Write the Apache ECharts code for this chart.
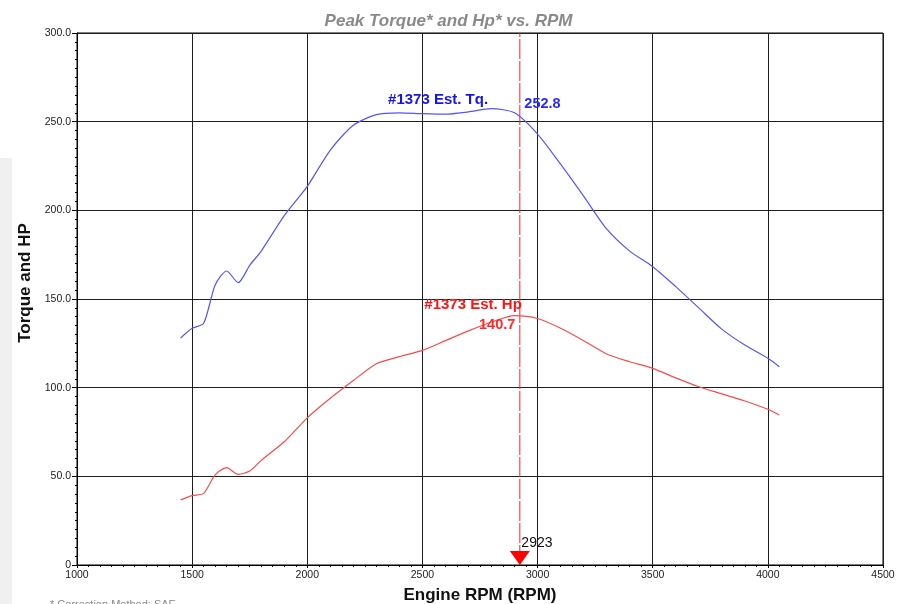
<!DOCTYPE html>
<html>
<head>
<meta charset="utf-8">
<script src="https://cdn.jsdelivr.net/npm/echarts@6/dist/echarts.min.js"></script>
<style>
html,body{margin:0;padding:0;background:#fff;}
#chart{width:897px;height:604px;}
</style>
</head>
<body>
<div id="chart"></div>
<script>
// ---- data ----
const rpm = [1450,1500,1550,1600,1650,1700,1750,1800,1900,2000,2100,2200,2300,2400,2500,2600,2700,2800,2900,3000,3100,3200,3300,3400,3500,3600,3700,3800,3900,4000,4050];
const torque = [128,133.5,136.3,157.9,165.8,159.2,169,177,197,213.5,234,248,254,255,254.5,254.2,255.5,257.3,255,243,226,208,189.5,177,168.2,157,145,133,124,116.6,111.8];
const hp = [36.7,39.1,40.4,50.8,54.9,51.1,53,59,69.5,83,94,104,113.5,117.5,121,126.5,132,137,140.6,139,133.5,126.5,119,114.6,110.9,105.5,100.5,96.5,92.5,87.8,84.6];
const cursorRpm = [2923];
const cursorValues = [252.8, 140.7];
const seriesNames = ['#1373 Est. Tq.', '#1373 Est. Hp'];
const xTickLabels = ['1000','1500','2000','2500','3000','3500','4000','4500'];
const yTickLabels = ['0','50.0','100.0','150.0','200.0','250.0','300.0'];
const yRange = [0, 300];

const tqData = rpm.map((r,i)=>[r, torque[i]]);
const hpData = rpm.map((r,i)=>[r, hp[i]]);
const cursorData = yRange.map(v=>[cursorRpm[0], v]);

const chart = echarts.init(document.getElementById('chart'), null, {renderer:'canvas'});
const FONT = 'Liberation Sans, Arial, sans-serif';
const hidden = {color:'rgba(0,0,0,0)'};

chart.setOption({
  animation:false,
  backgroundColor:'#fff',
  title:{
    text:'Peak Torque* and Hp* vs. RPM',
    left:'center', top:8,
    textStyle:{fontFamily:FONT, fontSize:17, fontWeight:'bold', fontStyle:'italic', color:'#8a8a8a'}
  },
  grid:{left:77, right:14, top:33, bottom:39, show:true, borderColor:'#000', borderWidth:1,
    containLabel:false, outerBoundsMode:'none'},
  xAxis:{
    type:'value', min:1000, max:4500, interval:500,
    axisLine:{show:true, lineStyle:{color:'#000', width:1}},
    axisTick:{show:true, length:3, lineStyle:{color:'#000'}},
    minorTick:{show:true, splitNumber:10, length:2, lineStyle:{color:'#000'}},
    splitLine:{show:true, lineStyle:{color:'#1e1e1e', width:1}},
    axisLabel:{margin:5, fontFamily:FONT, fontSize:10.5, color:'#222',
      formatter:(v)=>{const i=xTickLabels.indexOf(String(v)); return i>=0?xTickLabels[i]:'';}},
    name:'Engine RPM (RPM)', nameLocation:'middle', nameGap:22,
    nameTextStyle:{fontFamily:FONT, fontSize:17, fontWeight:'bold', color:'#111'}
  },
  yAxis:{
    type:'value', min:yRange[0], max:yRange[1], interval:50,
    axisLine:{show:true, lineStyle:{color:'#000', width:1}},
    axisTick:{show:true, length:5, lineStyle:{color:'#000'}},
    minorTick:{show:true, splitNumber:10, length:2, lineStyle:{color:'#000'}},
    splitLine:{show:true, lineStyle:{color:'#1e1e1e', width:1}},
    axisLabel:{margin:6, fontFamily:FONT, fontSize:10.5, color:'#222',
      formatter:(v)=>yTickLabels[Math.round(v/50)]}
  },
  graphic:[
    {type:'rect', z:-10, shape:{x:0, y:158, width:12, height:446}, style:{fill:'#f0f0f0'}},
    {type:'text', x:25, y:283, rotation:Math.PI/2,
      style:{text:'Torque and HP', fill:'#111', font:'bold 17px Liberation Sans, Arial, sans-serif', align:'center', verticalAlign:'middle'}},
    {type:'text', x:50, y:599,
      style:{text:'* Correction Method: SAE', fill:'#888', font:'11px Liberation Sans, Arial, sans-serif', align:'left', verticalAlign:'top'}}
  ],
  series:[
    {
      name:'cursor', type:'line', data:cursorData, showSymbol:false, symbol:'none', silent:true, z:1,
      lineStyle:{color:'#ff2020', width:1, type:[20,2]}, itemStyle:{color:'#ff2020'}
    },
    {
      name:seriesNames[0], type:'line', data:tqData, showSymbol:false, symbol:'none',
      smooth:0.25, z:3,
      lineStyle:{color:'#5454ff', width:1.2}, itemStyle:{color:'#5454ff'},
      markPoint:{
        silent:true, animation:false,
        data:[
          {coord:[2568,262.5], symbol:'circle', symbolSize:1, itemStyle:hidden,
            label:{show:true, position:'inside', formatter:seriesNames[0], fontFamily:FONT, fontSize:15, fontWeight:'bold', color:'#1414f0'}},
          {coord:[cursorRpm[0], cursorValues[0]], symbol:'circle', symbolSize:1, itemStyle:hidden,
            label:{show:true, position:'right', distance:4, offset:[0,-13], formatter:String(cursorValues[0]), fontFamily:FONT, fontSize:14.5, fontWeight:'bold', color:'#2a2aff'}}
        ]
      }
    },
    {
      name:seriesNames[1], type:'line', data:hpData, showSymbol:false, symbol:'none',
      smooth:0.25, z:3,
      lineStyle:{color:'#ff4848', width:1.2}, itemStyle:{color:'#ff4848'},
      markPoint:{
        silent:true, animation:false,
        data:[
          {coord:[2720,146.6], symbol:'circle', symbolSize:1, itemStyle:hidden,
            label:{show:true, position:'inside', formatter:seriesNames[1], fontFamily:FONT, fontSize:15, fontWeight:'bold', color:'#ff1414'}},
          {coord:[cursorRpm[0], cursorValues[1]], symbol:'circle', symbolSize:1, itemStyle:hidden,
            label:{show:true, position:'left', distance:4, offset:[0,10], formatter:String(cursorValues[1]), fontFamily:FONT, fontSize:14.5, fontWeight:'bold', color:'#ff2a2a'}},
          {coord:[cursorRpm[0], 0], symbol:'triangle', symbolSize:[20,14], symbolRotate:180, symbolOffset:[0,-7],
            itemStyle:{color:'#ff0000'}, label:{show:false}},
          {coord:[cursorRpm[0], 0], symbol:'circle', symbolSize:1, itemStyle:hidden,
            label:{show:true, position:'right', distance:1, offset:[0,-22], formatter:String(cursorRpm[0]), fontFamily:FONT, fontSize:14, color:'#111'}}
        ]
      }
    }
  ]
});
</script>
</body>
</html>
